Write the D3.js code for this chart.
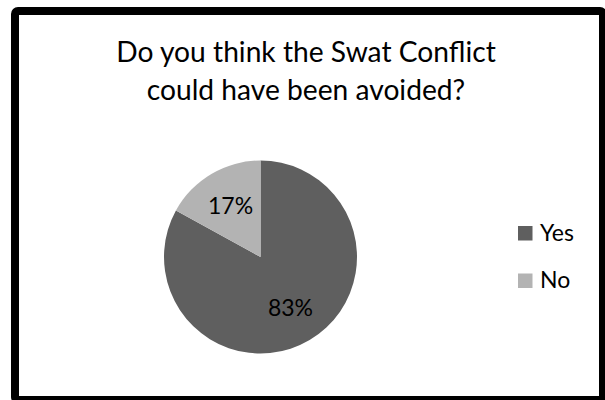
<!DOCTYPE html>
<html>
<head>
<meta charset="utf-8">
<script src="https://cdn.jsdelivr.net/npm/d3@7"></script>
<style>
html,body{margin:0;padding:0;background:#fff;}
svg{display:block;}
text{font-family:Lato,"Open Sans",sans-serif;fill:#000;}
</style>
</head>
<body>
<svg id="chart" width="605" height="400"></svg>
<script>
const titleLines = ["Do you think the Swat Conflict", "could have been avoided?"];
const categories = ["Yes", "No"];
const values = [83, 17];
const labels = ["83%", "17%"];
const colors = ["#5f5f5f", "#b3b3b3"];

const svg = d3.select("#chart");

// frame
svg.append("rect")
  .attr("x", 15).attr("y", 11)
  .attr("width", 588).attr("height", 389)
  .attr("rx", 3)
  .attr("fill", "#fff")
  .attr("stroke", "#000")
  .attr("stroke-width", 8);

// title
svg.append("g").selectAll("text")
  .data(titleLines)
  .join("text")
  .attr("x", 306)
  .attr("y", (d, i) => 62 + i * 38)
  .attr("text-anchor", "middle")
  .style("font-size", "28.2px")
  .text(d => d);

// pie
const cx = 260.5, cy = 257, r = 96.5;
const data = categories.map((c, i) => ({cat: c, value: values[i], label: labels[i], color: colors[i]}));
const pie = d3.pie().sort(null).value(d => d.value);
const arcs = pie(data);
const arc = d3.arc().innerRadius(0).outerRadius(r);
const labelArc = d3.arc().innerRadius(r * 0.61).outerRadius(r * 0.61);

const g = svg.append("g").attr("transform", `translate(${cx},${cy})`);
g.selectAll("path")
  .data(arcs)
  .join("path")
  .attr("d", arc)
  .attr("fill", d => d.data.color);

g.selectAll("text")
  .data(arcs)
  .join("text")
  .attr("x", d => labelArc.centroid(d)[0])
  .attr("y", d => labelArc.centroid(d)[1])
  .attr("text-anchor", "middle")
  .attr("dy", "0.35em")
  .style("font-size", "23px")
  .text(d => d.data.label);

// legend
const legend = svg.append("g").attr("transform", "translate(518,226)");
const items = legend.selectAll("g")
  .data(data)
  .join("g")
  .attr("transform", (d, i) => `translate(0,${i * 47.5})`);
items.append("rect")
  .attr("width", 14.5).attr("height", 14.5)
  .attr("fill", d => d.color);
items.append("text")
  .attr("x", 22).attr("y", 14.7)
  .style("font-size", "23px")
  .text(d => d.cat);
</script>
</body>
</html>
